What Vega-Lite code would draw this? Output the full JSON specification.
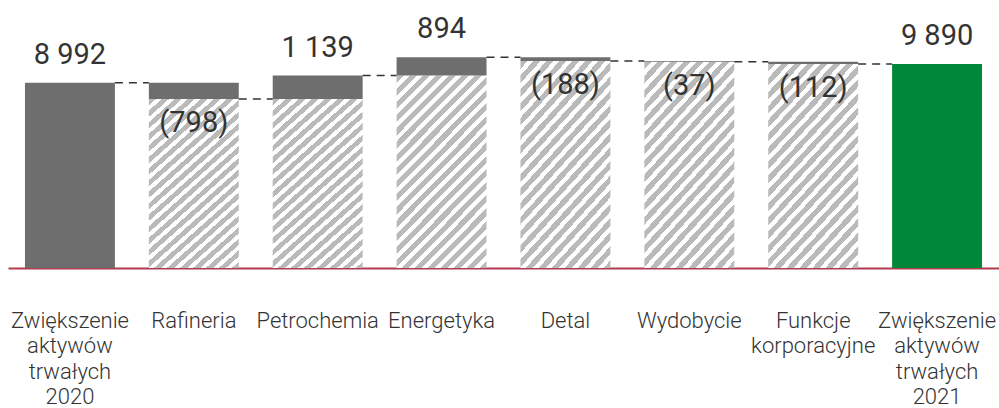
{
  "$schema": "https://vega.github.io/schema/vega-lite/v6.json",
  "width": 991,
  "height": 268,
  "autosize": {"type": "none"},
  "padding": {"left": 8, "top": 0, "right": 0, "bottom": 140},
  "background": "#ffffff",
  "config": {"view": {"stroke": null}},
  "datasets": {
    "steps": [
      {"cat": "Zwiększenie|aktywów|trwałych|2020", "kind": "start", "lo": 0, "hi": 8992, "label": "8 992"},
      {"cat": "Rafineria", "kind": "down", "lo": 8194, "hi": 8992, "label": "(798)"},
      {"cat": "Petrochemia", "kind": "up", "lo": 8194, "hi": 9333, "label": "1 139"},
      {"cat": "Energetyka", "kind": "up", "lo": 9333, "hi": 10227, "label": "894"},
      {"cat": "Detal", "kind": "down", "lo": 10039, "hi": 10227, "label": "(188)"},
      {"cat": "Wydobycie", "kind": "down", "lo": 10002, "hi": 10039, "label": "(37)"},
      {"cat": "Funkcje|korporacyjne", "kind": "down", "lo": 9890, "hi": 10002, "label": "(112)"},
      {"cat": "Zwiększenie|aktywów|trwałych|2021", "kind": "end", "lo": 0, "hi": 9890, "label": "9 890"}
    ],
    "links": [
      {"cat": "Zwiększenie|aktywów|trwałych|2020", "next": "Rafineria", "level": 8992},
      {"cat": "Rafineria", "next": "Petrochemia", "level": 8194},
      {"cat": "Petrochemia", "next": "Energetyka", "level": 9333},
      {"cat": "Energetyka", "next": "Detal", "level": 10227},
      {"cat": "Detal", "next": "Wydobycie", "level": 10039},
      {"cat": "Wydobycie", "next": "Funkcje|korporacyjne", "level": 10002},
      {"cat": "Funkcje|korporacyjne", "next": "Zwiększenie|aktywów|trwałych|2021", "level": 9890}
    ]
  },
  "data": {"name": "steps"},
  "encoding": {
    "x": {
      "field": "cat",
      "type": "nominal",
      "scale": {
        "domain": ["Zwiększenie|aktywów|trwałych|2020", "Rafineria", "Petrochemia", "Energetyka", "Detal", "Wydobycie", "Funkcje|korporacyjne", "Zwiększenie|aktywów|trwałych|2021"],
        "paddingInner": 0.274,
        "paddingOuter": 0.137
      },
      "axis": {
        "title": null,
        "labelAngle": 0,
        "labelExpr": "split(datum.label, '|')",
        "labelFont": "Roboto",
        "labelFontWeight": 300,
        "labelFontSize": 22,
        "labelColor": "#333333",
        "labelLineHeight": 25.5,
        "labelPadding": 42,
        "labelBaseline": "top",
        "labelOverlap": false,
        "labelLimit": 0,
        "labelFlush": false,
        "ticks": false,
        "domainColor": "#b23a4e",
        "domainWidth": 2,
        "grid": false
      }
    }
  },
  "layer": [
    {
      "transform": [{"filter": "datum.kind == 'up' || datum.kind == 'down'"}],
      "mark": {
        "type": "bar",
        "color": {
          "gradient": "linear",
          "x1": 0, "y1": 0, "x2": 0.662, "y2": 1.397,
          "stops": [
            {"offset": 0.000, "color": "#bababa"}, {"offset": 0.022, "color": "#bababa"}, {"offset": 0.022, "color": "#ffffff"}, {"offset": 0.04, "color": "#ffffff"},
            {"offset": 0.04, "color": "#bababa"}, {"offset": 0.062, "color": "#bababa"}, {"offset": 0.062, "color": "#ffffff"}, {"offset": 0.08, "color": "#ffffff"},
            {"offset": 0.08, "color": "#bababa"}, {"offset": 0.102, "color": "#bababa"}, {"offset": 0.102, "color": "#ffffff"}, {"offset": 0.12, "color": "#ffffff"},
            {"offset": 0.12, "color": "#bababa"}, {"offset": 0.142, "color": "#bababa"}, {"offset": 0.142, "color": "#ffffff"}, {"offset": 0.16, "color": "#ffffff"},
            {"offset": 0.16, "color": "#bababa"}, {"offset": 0.182, "color": "#bababa"}, {"offset": 0.182, "color": "#ffffff"}, {"offset": 0.20, "color": "#ffffff"},
            {"offset": 0.20, "color": "#bababa"}, {"offset": 0.222, "color": "#bababa"}, {"offset": 0.222, "color": "#ffffff"}, {"offset": 0.24, "color": "#ffffff"},
            {"offset": 0.24, "color": "#bababa"}, {"offset": 0.262, "color": "#bababa"}, {"offset": 0.262, "color": "#ffffff"}, {"offset": 0.28, "color": "#ffffff"},
            {"offset": 0.28, "color": "#bababa"}, {"offset": 0.302, "color": "#bababa"}, {"offset": 0.302, "color": "#ffffff"}, {"offset": 0.32, "color": "#ffffff"},
            {"offset": 0.32, "color": "#bababa"}, {"offset": 0.342, "color": "#bababa"}, {"offset": 0.342, "color": "#ffffff"}, {"offset": 0.36, "color": "#ffffff"},
            {"offset": 0.36, "color": "#bababa"}, {"offset": 0.382, "color": "#bababa"}, {"offset": 0.382, "color": "#ffffff"}, {"offset": 0.40, "color": "#ffffff"},
            {"offset": 0.40, "color": "#bababa"}, {"offset": 0.422, "color": "#bababa"}, {"offset": 0.422, "color": "#ffffff"}, {"offset": 0.44, "color": "#ffffff"},
            {"offset": 0.44, "color": "#bababa"}, {"offset": 0.462, "color": "#bababa"}, {"offset": 0.462, "color": "#ffffff"}, {"offset": 0.48, "color": "#ffffff"},
            {"offset": 0.48, "color": "#bababa"}, {"offset": 0.502, "color": "#bababa"}, {"offset": 0.502, "color": "#ffffff"}, {"offset": 0.52, "color": "#ffffff"},
            {"offset": 0.52, "color": "#bababa"}, {"offset": 0.542, "color": "#bababa"}, {"offset": 0.542, "color": "#ffffff"}, {"offset": 0.56, "color": "#ffffff"},
            {"offset": 0.56, "color": "#bababa"}, {"offset": 0.582, "color": "#bababa"}, {"offset": 0.582, "color": "#ffffff"}, {"offset": 0.60, "color": "#ffffff"},
            {"offset": 0.60, "color": "#bababa"}, {"offset": 0.622, "color": "#bababa"}, {"offset": 0.622, "color": "#ffffff"}, {"offset": 0.64, "color": "#ffffff"},
            {"offset": 0.64, "color": "#bababa"}, {"offset": 0.662, "color": "#bababa"}, {"offset": 0.662, "color": "#ffffff"}, {"offset": 0.68, "color": "#ffffff"},
            {"offset": 0.68, "color": "#bababa"}, {"offset": 0.702, "color": "#bababa"}, {"offset": 0.702, "color": "#ffffff"}, {"offset": 0.72, "color": "#ffffff"},
            {"offset": 0.72, "color": "#bababa"}, {"offset": 0.742, "color": "#bababa"}, {"offset": 0.742, "color": "#ffffff"}, {"offset": 0.76, "color": "#ffffff"},
            {"offset": 0.76, "color": "#bababa"}, {"offset": 0.782, "color": "#bababa"}, {"offset": 0.782, "color": "#ffffff"}, {"offset": 0.80, "color": "#ffffff"},
            {"offset": 0.80, "color": "#bababa"}, {"offset": 0.822, "color": "#bababa"}, {"offset": 0.822, "color": "#ffffff"}, {"offset": 0.84, "color": "#ffffff"},
            {"offset": 0.84, "color": "#bababa"}, {"offset": 0.862, "color": "#bababa"}, {"offset": 0.862, "color": "#ffffff"}, {"offset": 0.88, "color": "#ffffff"},
            {"offset": 0.88, "color": "#bababa"}, {"offset": 0.902, "color": "#bababa"}, {"offset": 0.902, "color": "#ffffff"}, {"offset": 0.92, "color": "#ffffff"},
            {"offset": 0.92, "color": "#bababa"}, {"offset": 0.942, "color": "#bababa"}, {"offset": 0.942, "color": "#ffffff"}, {"offset": 0.96, "color": "#ffffff"},
            {"offset": 0.96, "color": "#bababa"}, {"offset": 0.982, "color": "#bababa"}, {"offset": 0.982, "color": "#ffffff"}, {"offset": 1.00, "color": "#ffffff"}
          ]
        }
      },
      "encoding": {
        "y": {"field": "lo", "type": "quantitative", "stack": null, "scale": {"domain": [0, 13000], "nice": false}, "axis": null}
      }
    },
    {
      "transform": [{"filter": "datum.kind == 'up' || datum.kind == 'down'"}],
      "mark": {"type": "bar", "color": "#6e6e6e"},
      "encoding": {
        "y": {"field": "lo", "type": "quantitative", "stack": null},
        "y2": {"field": "hi"}
      }
    },
    {
      "transform": [{"filter": "datum.kind == 'start' || datum.kind == 'end'"}],
      "mark": {"type": "bar"},
      "encoding": {
        "y": {"field": "hi", "type": "quantitative", "stack": null},
        "color": {"field": "kind", "type": "nominal", "scale": {"domain": ["start", "end"], "range": ["#6e6e6e", "#00873a"]}, "legend": null}
      }
    },
    {
      "data": {"name": "links"},
      "mark": {"type": "rule", "color": "#333333", "strokeWidth": 1.5, "strokeDash": [8, 6]},
      "encoding": {
        "x": {"field": "cat", "type": "nominal", "bandPosition": 1},
        "x2": {"field": "next", "bandPosition": 0},
        "y": {"field": "level", "type": "quantitative"}
      }
    },
    {
      "transform": [{"filter": "datum.kind != 'down'"}],
      "mark": {"type": "text", "baseline": "alphabetic", "dy": -19, "font": "Roboto", "fontSize": 29, "color": "#333333"},
      "encoding": {
        "y": {"field": "hi", "type": "quantitative"},
        "text": {"field": "label"}
      }
    },
    {
      "transform": [{"filter": "datum.kind == 'down'"}],
      "mark": {"type": "text", "baseline": "middle", "dy": 24, "font": "Roboto", "fontSize": 29, "color": "#333333"},
      "encoding": {
        "y": {"field": "lo", "type": "quantitative"},
        "text": {"field": "label"}
      }
    }
  ]
}
